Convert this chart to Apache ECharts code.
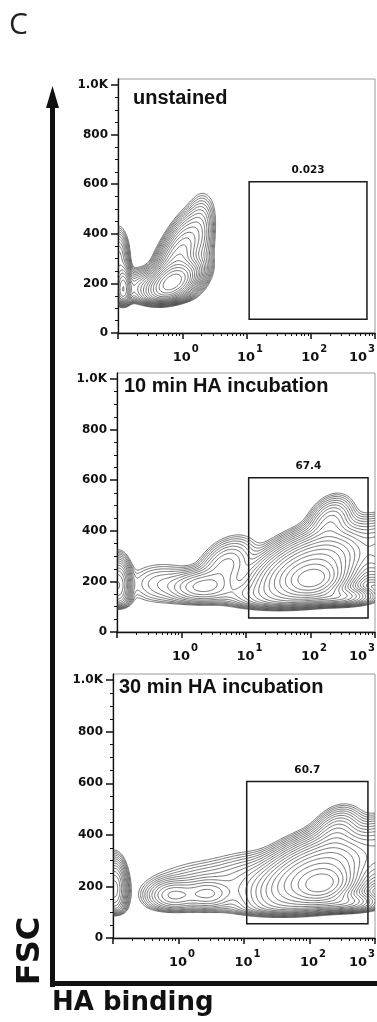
<!DOCTYPE html>
<html>
<head>
<meta charset="utf-8">
<script src="https://cdn.jsdelivr.net/npm/echarts@6/dist/echarts.min.js"></script>
<style>
  html, body { margin: 0; padding: 0; background: #fff; }
  #chart { width: 377px; height: 1022px; }
</style>
</head>
<body>
<div id="chart"></div>
<script>
// panel labels
const panelTitles = ['unstained', '10 min HA incubation', '30 min HA incubation'];

// gates: [HA from, HA to, FSC from, FSC to]
const gates = [
  [11, 750, 55, 610],
  [11, 780, 55, 610],
  [11, 780, 55, 607],
];
const gatePercents = ['0.023', '67.4', '60.7'];

// axis ticks
const xLabelValues = [1, 10, 100, 1000];
const xTickValues = [0.1, 1, 10, 100, 1000];
const xMinorValues = [0.2, 0.3, 0.4, 0.5, 0.6, 0.7, 0.8, 0.9, 2, 3, 4, 5, 6, 7, 8, 9,
  20, 30, 40, 50, 60, 70, 80, 90, 200, 300, 400, 500, 600, 700, 800, 900];
const yTickValues = [0, 200, 400, 600, 800, 1000];
const yMinorValues = [50, 100, 150, 250, 300, 350, 450, 500, 550, 650, 700, 750, 850, 900, 950];

// cell populations:
// [log10 HA centre, FSC centre, sd log10 HA, sd FSC, correlation, peak height]
const unstainedPops = [
  [-0.14, 205, 0.18, 38, 0.45, 1.0],
  [-0.1, 280, 0.2, 90, 0.7, 0.2],
  [0.3, 380, 0.1, 80, 0.0, 0.02],
  [-0.45, 180, 0.25, 35, 0.0, 0.08],
  [-0.92, 175, 0.06, 45, 0.0, 0.25],
  [-1.0, 300, 0.08, 55, 0.0, 0.05],
];
const ha10Pops = [
  [2.05, 205, 0.22, 35, 0.2, 0.6],
  [1.95, 240, 0.4, 70, 0.5, 0.45],
  [2.3, 430, 0.17, 50, 0.3, 0.04],
  [3.15, 320, 0.2, 60, 0.0, 0.05],
  [2.4, 140, 0.25, 20, 0.0, 0.1],
  [0.32, 180, 0.25, 32, 0.1, 0.05],
  [0.68, 260, 0.22, 55, 0.4, 0.03],
  [-0.3, 190, 0.3, 45, 0.0, 0.01],
  [1.0, 150, 0.35, 25, 0.0, 0.015],
  [-0.98, 185, 0.09, 50, 0.0, 0.12],
];
const ha30Pops = [
  [2.2, 205, 0.22, 35, 0.2, 0.6],
  [2.05, 240, 0.42, 70, 0.5, 0.45],
  [2.4, 400, 0.18, 50, 0.3, 0.04],
  [3.15, 330, 0.2, 60, 0.0, 0.05],
  [2.5, 140, 0.25, 20, 0.0, 0.1],
  [-0.08, 165, 0.2, 30, 0.0, 0.045],
  [0.44, 170, 0.2, 30, 0.0, 0.04],
  [0.5, 200, 0.5, 55, 0.1, 0.012],
  [1.1, 230, 0.3, 55, 0.0, 0.01],
  [-0.98, 190, 0.09, 55, 0.0, 0.1],
];
const panelPops = [unstainedPops, ha10Pops, ha30Pops];
// FSC trigger threshold of each acquisition: [FSC, softness]
const fscThresholds = [[130, 9], [105, 8], [100, 8]];

const CONTOUR_LEVELS = 20;
const LEVEL_STEP = 0.3;
const FSC_MAX = 1024;

// density grid over the visible plot, then marching squares
function densityGrid(pops, thr, nx, ny) {
  const xs = [], ys = [];
  for (let i = 0; i < nx; i++) xs.push(-1 + 4 * i / (nx - 1));
  for (let j = 0; j < ny; j++) ys.push(FSC_MAX * j / (ny - 1));
  const f = new Float64Array(nx * ny);
  let max = 0;
  for (let j = 0; j < ny; j++) {
    const cut = 1 / (1 + Math.exp(-(ys[j] - thr[0]) / thr[1]));
    for (let i = 0; i < nx; i++) {
      let v = 0;
      for (const [mx, my, sx, sy, r, w] of pops) {
        const dx = (xs[i] - mx) / sx, dy = (ys[j] - my) / sy;
        v += w * Math.exp(-(dx * dx - 2 * r * dx * dy + dy * dy) / (2 * (1 - r * r)));
      }
      v *= cut;
      f[j * nx + i] = v;
      if (v > max) max = v;
    }
  }
  return { xs, ys, f, nx, ny, max };
}

function contourAt(g, level) {
  const { xs, ys, f, nx, ny } = g;
  const segs = [];
  for (let j = 0; j < ny - 1; j++) {
    for (let i = 0; i < nx - 1; i++) {
      const v0 = f[j * nx + i], v1 = f[j * nx + i + 1];
      const v2 = f[(j + 1) * nx + i + 1], v3 = f[(j + 1) * nx + i];
      const c = (v0 > level ? 1 : 0) | (v1 > level ? 2 : 0) | (v2 > level ? 4 : 0) | (v3 > level ? 8 : 0);
      if (c === 0 || c === 15) continue;
      const mid = (v0 + v1 + v2 + v3) / 4 > level;
      let pairs;
      switch (c) {
        case 1: case 14: pairs = [[0, 3]]; break;
        case 2: case 13: pairs = [[0, 1]]; break;
        case 3: case 12: pairs = [[1, 3]]; break;
        case 4: case 11: pairs = [[1, 2]]; break;
        case 6: case 9: pairs = [[0, 2]]; break;
        case 7: case 8: pairs = [[2, 3]]; break;
        case 5: pairs = mid ? [[0, 1], [2, 3]] : [[0, 3], [1, 2]]; break;
        case 10: pairs = mid ? [[0, 3], [1, 2]] : [[0, 1], [2, 3]]; break;
      }
      const edge = (e) => {
        let t;
        switch (e) {
          case 0: t = (level - v0) / (v1 - v0); return { k: 'h' + i + '_' + j, p: [xs[i] + t * (xs[i + 1] - xs[i]), ys[j]] };
          case 1: t = (level - v1) / (v2 - v1); return { k: 'v' + (i + 1) + '_' + j, p: [xs[i + 1], ys[j] + t * (ys[j + 1] - ys[j])] };
          case 2: t = (level - v3) / (v2 - v3); return { k: 'h' + i + '_' + (j + 1), p: [xs[i] + t * (xs[i + 1] - xs[i]), ys[j + 1]] };
          default: t = (level - v0) / (v3 - v0); return { k: 'v' + i + '_' + j, p: [xs[i], ys[j] + t * (ys[j + 1] - ys[j])] };
        }
      };
      for (const [a, b] of pairs) segs.push([edge(a), edge(b)]);
    }
  }
  // join the segments into polylines
  const byKey = new Map();
  segs.forEach((s, idx) => {
    for (const q of s) {
      if (!byKey.has(q.k)) byKey.set(q.k, []);
      byKey.get(q.k).push(idx);
    }
  });
  const used = new Uint8Array(segs.length);
  const out = [];
  for (let s0 = 0; s0 < segs.length; s0++) {
    if (used[s0]) continue;
    used[s0] = 1;
    const chain = [segs[s0][0], segs[s0][1]];
    for (const fwd of [true, false]) {
      let cur = fwd ? chain[chain.length - 1] : chain[0];
      while (true) {
        const cand = byKey.get(cur.k).find((idx) => !used[idx]);
        if (cand === undefined) break;
        used[cand] = 1;
        const s = segs[cand];
        const next = s[0].k === cur.k ? s[1] : s[0];
        if (fwd) chain.push(next); else chain.unshift(next);
        cur = next;
      }
    }
    out.push(chain.map((q) => [Math.pow(10, q.p[0]), q.p[1]]));
  }
  return out;
}

function contourLines(pops, thr) {
  const g = densityGrid(pops, thr, 240, 220);
  const lines = [];
  for (let k = 1; k <= CONTOUR_LEVELS; k++) {
    lines.push(...contourAt(g, g.max * Math.exp(-LEVEL_STEP * k)));
  }
  return lines;
}

// layout of the three plots (px)
const panels = [
  { left: 118, top: 79, height: 254, titleLeft: 133, titleTop: 88 },
  { left: 117, top: 373, height: 259, titleLeft: 124, titleTop: 376 },
  { left: 113, top: 674, height: 264, titleLeft: 119, titleTop: 677 },
];

const ink = '#111';
const tickFont = { fontFamily: 'DejaVu Sans', fontWeight: 'bold', color: ink };

const grids = [], xAxes = [], yAxes = [], series = [], titles = [];
panels.forEach((p, n) => {
  grids.push({
    left: p.left, top: p.top, right: 2, height: p.height, outerBoundsMode: 'none',
    show: true, borderColor: '#9a9a9a', borderWidth: 1,
  });
  xAxes.push({
    type: 'log', gridIndex: n, min: 0.1, max: 1000, position: 'bottom',
    axisLine: { lineStyle: { color: ink, width: 1.3 } },
    axisTick: { customValues: xTickValues, length: 6, lineStyle: { color: ink, width: 1.5 } },
    axisLabel: {
      customValues: xLabelValues, margin: 9, alignMaxLabel: 'right',
      formatter: (v) => '{p|}{b|10}{s|' + Math.round(Math.log10(v)) + '}',
      rich: {
        p: { width: 7 },
        b: { ...tickFont, fontSize: 13, lineHeight: 22, verticalAlign: 'bottom' },
        s: { ...tickFont, fontSize: 10, lineHeight: 22, verticalAlign: 'top', padding: [2, 0, 0, 1] },
      },
    },
    splitLine: { show: false },
  });
  xAxes.push({
    type: 'log', gridIndex: n, min: 0.1, max: 1000, position: 'bottom',
    axisLine: { show: false },
    axisTick: { customValues: xMinorValues, length: 3, lineStyle: { color: ink, width: 1 } },
    axisLabel: { show: false },
    splitLine: { show: false },
  });
  yAxes.push({
    type: 'value', gridIndex: n, min: 0, max: FSC_MAX, position: 'left',
    axisLine: { show: true, lineStyle: { color: ink, width: 1.3 } },
    axisTick: { show: true, customValues: yTickValues, length: 7, lineStyle: { color: ink, width: 1.5 } },
    axisLabel: {
      customValues: yTickValues, margin: 10, ...tickFont, fontSize: 12,
      formatter: (v) => (v === 1000 ? '1.0K' : String(v)),
    },
    splitLine: { show: false },
  });
  yAxes.push({
    type: 'value', gridIndex: n, min: 0, max: FSC_MAX, position: 'left',
    axisLine: { show: false },
    axisTick: { show: true, customValues: yMinorValues, length: 3, lineStyle: { color: ink, width: 1 } },
    axisLabel: { show: false },
    splitLine: { show: false },
  });
  series.push({
    type: 'lines', coordinateSystem: 'cartesian2d', polyline: true,
    xAxisIndex: 2 * n, yAxisIndex: 2 * n, silent: true,
    lineStyle: { color: '#3a3a3a', width: 0.7, opacity: 1 },
    data: contourLines(panelPops[n], fscThresholds[n]).map((c) => ({ coords: c })),
  });
  const [x0, x1, y0, y1] = gates[n];
  series.push({
    type: 'line', xAxisIndex: 2 * n, yAxisIndex: 2 * n, data: [], silent: true,
    markArea: {
      silent: true,
      itemStyle: { color: 'rgba(0,0,0,0)', borderColor: '#1a1a1a', borderWidth: 1.5 },
      label: { show: true, position: 'top', distance: 5, ...tickFont, fontSize: 10.5, formatter: gatePercents[n] },
      data: [[{ coord: [x0, y1] }, { coord: [x1, y0] }]],
    },
  });
  titles.push({
    text: panelTitles[n], left: p.titleLeft, top: p.titleTop, padding: 0,
    textStyle: { fontFamily: 'Liberation Sans', fontWeight: 'bold', fontSize: 20, color: ink },
  });
});

const chart = echarts.init(document.getElementById('chart'));
chart.setOption({
  animation: false,
  backgroundColor: '#fff',
  title: titles,
  grid: grids,
  xAxis: xAxes,
  yAxis: yAxes,
  series: series,
  graphic: [
    { type: 'text', left: 9, top: 10, style: { text: 'C', font: '30px "Open Sans"', fill: '#222' } },
    { type: 'rect', shape: { x: 50, y: 104, width: 5, height: 883 }, style: { fill: ink } },
    { type: 'polygon', shape: { points: [[52.5, 86], [46, 108], [59, 108]] }, style: { fill: ink } },
    { type: 'rect', shape: { x: 50, y: 981, width: 327, height: 5 }, style: { fill: ink } },
    {
      type: 'text', x: 31, y: 951, rotation: Math.PI / 2,
      style: { text: 'FSC', font: 'bold 32px "DejaVu Sans"', fill: ink, align: 'center', verticalAlign: 'middle' },
    },
    { type: 'text', left: 52, top: 990, style: { text: 'HA binding', font: 'bold 26px "DejaVu Sans"', fill: ink } },
  ],
});
</script>
</body>
</html>
